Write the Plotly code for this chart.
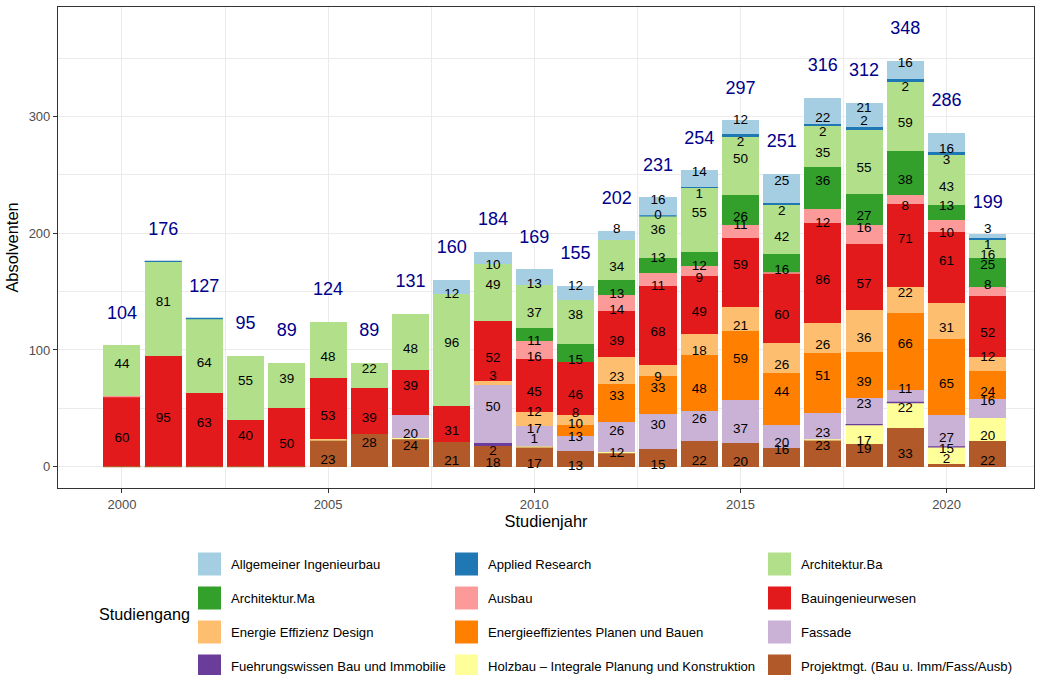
import plotly.graph_objects as go

# ---------------- data ----------------
years = list(range(2000, 2022))
N = None

projektmgt = [0, 0, 0, 0, 0, 23, 28, 24, 21, 18, 17, 13, 12, 15, 22, 20, 16, 23, 19, 33, 2, 22]
holzbau = [N, N, N, N, N, 0, N, 0, N, N, 0, N, 0, N, N, N, N, 0, 17, 22, 15, 20]
fuehrung = [N, N, N, N, N, N, N, N, N, 2, 1, N, N, N, N, N, N, N, 0, 0, 0, N]
fassade = [N, N, N, N, N, N, N, 20, N, 50, 17, 13, 26, 30, 26, 37, 20, 23, 23, 11, 27, 16]
energie_planen = [N, N, N, N, N, N, N, N, N, N, N, 10, 33, 33, 48, 59, 44, 51, 39, 66, 65, 24]
energie_design = [N, N, N, N, N, N, N, N, N, 3, 12, 8, 23, 9, 18, 21, 26, 26, 36, 22, 31, 12]
bauing = [60, 95, 63, 40, 50, 53, 39, 39, 31, 52, 45, 46, 39, 68, 49, 59, 60, 86, 57, 71, 61, 52]
ausbau = [0, N, N, N, N, N, N, N, N, N, 16, N, 14, 11, 9, 11, 0, 12, 16, 8, 10, 8]
arch_ma = [N, N, N, N, N, N, N, N, N, N, 11, 15, 13, 13, 12, 26, 16, 36, 27, 38, 13, 25]
arch_ba = [44, 81, 64, 55, 39, 48, 22, 48, 96, 49, 37, 38, 34, 36, 55, 50, 42, 35, 55, 59, 43, 16]
applied = [N, 0, 0, N, N, N, N, N, N, N, N, N, N, 0, 1, 2, 2, 2, 2, 2, 3, 1]
allg_ing = [N, N, N, N, N, N, N, N, 12, 10, 13, 12, 8, 16, 14, 12, 25, 22, 21, 16, 16, 3]

names = {
    "allg": "Allgemeiner Ingenieurbau",
    "ar": "Applied Research",
    "archba": "Architektur.Ba",
    "archma": "Architektur.Ma",
    "ausbau": "Ausbau",
    "bau": "Bauingenieurwesen",
    "eed": "Energie Effizienz Design",
    "epb": "Energieeffizientes Planen und Bauen",
    "fassade": "Fassade",
    "fuehr": "Fuehrungswissen Bau und Immobilie",
    "holz": "Holzbau – Integrale Planung und Konstruktion",
    "proj": "Projektmgt. (Bau u. Imm/Fass/Ausb)",
}

# stacking order bottom -> top
stack = [
    ("proj", projektmgt), ("holz", holzbau), ("fuehr", fuehrung), ("fassade", fassade),
    ("epb", energie_planen), ("eed", energie_design), ("bau", bauing), ("ausbau", ausbau),
    ("archma", arch_ma), ("archba", arch_ba), ("ar", applied), ("allg", allg_ing),
]

# ---------------- styles ----------------
colors = {
    "allg": "#A6CEE3", "ar": "#1F78B4", "archba": "#B2DF8A", "archma": "#33A02C",
    "ausbau": "#FB9A99", "bau": "#E31A1C", "eed": "#FDBF6F", "epb": "#FF7F00",
    "fassade": "#CAB2D6", "fuehr": "#6A3D9A", "holz": "#FFFF99", "proj": "#B15928",
}

# label justification per year (A = above centre, B = below centre, C = centred, . = no label)
label_just = {
    "proj":    ".....BAABBBBABBBAAABAB",
    "holz":    "..................BAAB",
    "fuehr":   ".........BA...........",
    "fassade": ".......B.AAAAAABBBAABA",
    "epb":     "...........AAABAAABABB",
    "eed":     ".........AAABBBBBBBABA",
    "bau":     "BBAABBBABBBBBBBABBBAAB",
    "ausbau":  "..........B.BBBA.BABBA",
    "archma":  "..........BBBABBBABBAA",
    "archba":  "AABAABABAABABAAABBBBBB",
    "ar":      ".............CBBBBABBB",
    "allg":    "........BBBAAAAAABAABA",
}
just_offset = {"A": 5.4, "B": -6.4, "C": 0.0}
total_offset = 26.6

FONT = "Liberation Sans, Arial, Helvetica, sans-serif"
W, H = 1045, 675
PL, PR, PT, PB = 58, 1034, 7, 488

fig = go.Figure()
base = [0] * len(years)
lab_x, lab_y, lab_t = [], [], []
line_traces = []
for key, vals in stack:
    fig.add_trace(go.Bar(
        x=years, y=vals, name=names[key], marker_color=colors[key],
        marker_line_width=0, width=0.9, showlegend=False,
        hovertemplate="%{x}: %{y}<extra>" + names[key] + "</extra>",
    ))
    lx, ly = [], []
    for i, v in enumerate(vals):
        if v is None:
            continue
        if v == 0:
            lx += [years[i] - 0.45, years[i] + 0.45, None]
            ly += [base[i], base[i], None]
        code = label_just[key][i]
        if code in just_offset:
            lab_x.append(years[i])
            lab_y.append(base[i] + v / 2 + just_offset[code])
            lab_t.append(str(v))
    if lx:
        line_traces.append(go.Scatter(x=lx, y=ly, mode="lines", line=dict(color=colors[key], width=1.3),
                                      showlegend=False, hoverinfo="skip"))
    base = [b + (v or 0) for b, v in zip(base, vals)]

for t in line_traces:
    fig.add_trace(t)

fig.add_trace(go.Scatter(
    x=lab_x, y=lab_y, text=lab_t, mode="text", textposition="middle center",
    textfont=dict(family=FONT, size=13.5, color="black"), showlegend=False, hoverinfo="skip",
    cliponaxis=False,
))

totals = base
fig.add_trace(go.Scatter(
    x=years, y=[t + total_offset for t in totals], text=[str(t) for t in totals],
    mode="text", textposition="middle center",
    textfont=dict(family=FONT, size=18, color="#00008B"), showlegend=False, hoverinfo="skip",
    cliponaxis=False,
))

# ---------------- manual legend ----------------
def px_x(px):
    return (px - PL) / (PR - PL)

def px_y(py):
    return (PB - py) / (PB - PT)

legend_cols = [
    ["allg", "archma", "eed", "fuehr"],
    ["ar", "ausbau", "epb", "holz"],
    ["archba", "bau", "fassade", "proj"],
]
col_left = [198, 455, 768]
row_centre = [564, 598, 632, 666]
key_size = 23
shapes = []
annotations = []
for c, col in enumerate(legend_cols):
    for r, key in enumerate(col):
        x0 = col_left[c]
        yc = row_centre[r]
        shapes.append(dict(type="rect", xref="paper", yref="paper",
                           x0=px_x(x0), x1=px_x(x0 + key_size),
                           y0=px_y(yc + key_size / 2), y1=px_y(yc - key_size / 2),
                           fillcolor=colors[key], line=dict(width=0), layer="above"))
        annotations.append(dict(xref="paper", yref="paper", x=px_x(x0 + 31), y=px_y(yc),
                                xanchor="left", yanchor="middle", showarrow=False,
                                text=names[key], font=dict(family=FONT, size=13.1, color="black")))
annotations.append(dict(xref="paper", yref="paper", x=px_x(97), y=px_y(614),
                        xanchor="left", yanchor="middle", showarrow=False,
                        text="Studiengang", font=dict(family=FONT, size=16.2, color="black")))

fig.update_layout(
    width=W, height=H,
    margin=dict(l=PL, r=W - PR, t=PT, b=H - PB, pad=0),
    barmode="stack",
    plot_bgcolor="white", paper_bgcolor="white",
    font=dict(family=FONT, color="black"),
    showlegend=False,
    shapes=shapes,
    annotations=annotations,
    xaxis=dict(
        range=[1998.45, 2022.12], tickmode="array", tickvals=[2000, 2005, 2010, 2015, 2020],
        ticks="outside", ticklen=4, tickwidth=1, tickcolor="#333333",
        tickfont=dict(family=FONT, size=13, color="#4D4D4D"),
        showgrid=True, gridcolor="#EBEBEB", gridwidth=1.1,
        minor=dict(tickmode="array", tickvals=[2002.5, 2007.5, 2012.5, 2017.5, 2022.5],
                   showgrid=True, gridcolor="#EBEBEB", gridwidth=0.55, ticks=""),
        showline=True, linecolor="#333333", linewidth=1.1, mirror=True, zeroline=False,
        title=dict(text="Studienjahr", font=dict(family=FONT, size=16.4, color="black"), standoff=3),
    ),
    yaxis=dict(
        range=[-18.3, 394], tickmode="array", tickvals=[0, 100, 200, 300],
        ticks="outside", ticklen=4, tickwidth=1, tickcolor="#333333",
        tickfont=dict(family=FONT, size=13, color="#4D4D4D"),
        showgrid=True, gridcolor="#EBEBEB", gridwidth=1.1,
        minor=dict(tickmode="array", tickvals=[50, 150, 250, 350],
                   showgrid=True, gridcolor="#EBEBEB", gridwidth=0.55, ticks=""),
        showline=True, linecolor="#333333", linewidth=1.1, mirror=True, zeroline=False,
        title=dict(text="Absolventen", font=dict(family=FONT, size=16.4, color="black"), standoff=5),
    ),
)

fig.write_html(
    "out.html",
    config={"displayModeBar": False},
    post_script="document.body.style.margin='0';document.body.style.overflow='hidden';",
)
